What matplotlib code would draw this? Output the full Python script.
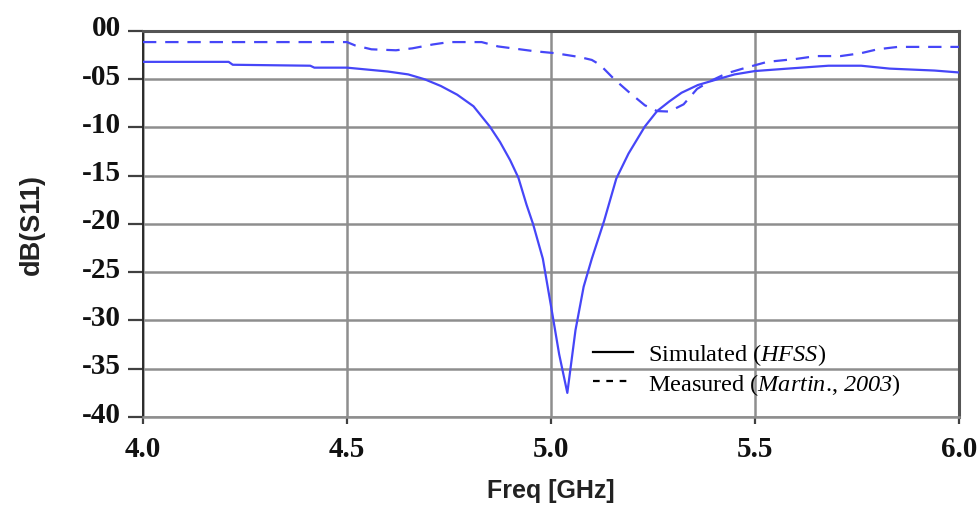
import matplotlib
matplotlib.use("Agg")
import matplotlib.pyplot as plt
import matplotlib.transforms as mtransforms
from matplotlib.lines import Line2D

# Return loss data (frequency in GHz, S11 in dB)
sim_freq = [4.00, 4.21, 4.22, 4.41, 4.42, 4.50, 4.55, 4.60, 4.65, 4.69, 4.73,
            4.77, 4.81, 4.85, 4.875, 4.90, 4.92, 4.94, 4.956, 4.98, 5.00, 5.02,
            5.04, 5.06, 5.08, 5.10, 5.13, 5.16, 5.19, 5.23, 5.26, 5.29, 5.32,
            5.36, 5.40, 5.45, 5.50, 5.58, 5.68, 5.76, 5.83, 5.94, 6.00]
sim_db = [-3.2, -3.2, -3.5, -3.6, -3.8, -3.8, -4.0, -4.2, -4.5, -5.0, -5.7,
          -6.6, -7.8, -9.9, -11.5, -13.4, -15.2, -18.0, -20.0, -23.6, -28.5, -33.5,
          -37.5, -31.0, -26.5, -23.6, -19.7, -15.3, -12.7, -9.9, -8.3, -7.3, -6.4,
          -5.6, -5.1, -4.5, -4.15, -3.9, -3.6, -3.6, -3.9, -4.1, -4.3]

meas_freq = [4.00, 4.50, 4.52, 4.56, 4.62, 4.66, 4.71, 4.75, 4.83, 4.87, 4.96,
             5.01, 5.07, 5.10, 5.12, 5.155, 5.19, 5.23, 5.26, 5.29, 5.325, 5.358,
             5.39, 5.43, 5.47, 5.53, 5.60, 5.65, 5.71, 5.76, 5.80, 5.85, 6.00]
meas_db = [-1.15, -1.15, -1.5, -1.9, -2.0, -1.8, -1.4, -1.15, -1.15, -1.6, -2.1,
           -2.3, -2.7, -3.0, -3.5, -5.0, -6.3, -7.7, -8.3, -8.35, -7.6, -6.0,
           -5.2, -4.4, -3.9, -3.2, -2.9, -2.6, -2.6, -2.3, -1.9, -1.65, -1.65]

x_ticks = [4.0, 4.5, 5.0, 5.5, 6.0]
x_labels = ["4.0", "4.5", "5.0", "5.5", "6.0"]
y_ticks = [0, -5, -10, -15, -20, -25, -30, -35, -40]
y_labels = ["00", "-05", "-10", "-15", "-20", "-25", "-30", "-35", "-40"]

legend_labels = [r"Simulated ($HFSS$)",
                 r"Measured ($Martin$., $2003$)"]

# math parts of the legend are set in italic serif, digits included
plt.rcParams["mathtext.fontset"] = "custom"
plt.rcParams["mathtext.rm"] = "Liberation Serif:italic"
plt.rcParams["mathtext.it"] = "Liberation Serif:italic"

line_color = "#4646f8"
grid_color = "#8e8e8e"
dark = "#404040"

fig = plt.figure(figsize=(9.8, 5.06), dpi=100)
ax = fig.add_axes([0.1459, 0.1739, 0.8327, 0.7629])

ax.plot(sim_freq, sim_db, color=line_color, lw=1.6, zorder=3)
ax.plot(meas_freq, meas_db, color=line_color, lw=1.6, ls=(0, (6, 4)), zorder=3)

ax.set_xlim(4.0, 6.0)
ax.set_ylim(-40, 0)
ax.set_xticks(x_ticks)
ax.set_xticklabels(x_labels)
ax.set_yticks(y_ticks)
ax.set_yticklabels(y_labels)

ax.grid(True, color=grid_color, lw=1.8, zorder=1)
ax.set_axisbelow(True)

for side, col, lw in [("top", "#555555", 2.2), ("right", "#555555", 2.2),
                      ("left", "#2a2a2a", 1.4), ("bottom", grid_color, 1.8)]:
    ax.spines[side].set_color(col)
    ax.spines[side].set_linewidth(lw)

ax.tick_params(axis="y", direction="out", length=10.8, width=1.6,
               color=dark, pad=5.0)
ax.tick_params(axis="x", direction="out", length=5, width=1.6,
               color=dark, pad=8.0)
for lab in ax.get_xticklabels() + ax.get_yticklabels():
    lab.set_fontfamily("Liberation Serif")
    lab.set_fontweight("bold")
    lab.set_fontsize(21)
    lab.set_color("#111111")

# y tick labels sit slightly above their gridlines
shift = mtransforms.ScaledTranslation(0, 6 / 100, fig.dpi_scale_trans)
for lab in ax.get_yticklabels():
    lab.set_transform(lab.get_transform() + shift)

ax.set_xlabel("Freq [GHz]", fontfamily="Liberation Sans", fontweight="bold",
              fontsize=18, color="#222222")
ax.set_ylabel("dB(S11)", fontfamily="Liberation Sans", fontweight="bold",
              fontsize=19.5, color="#222222")
ax.xaxis.set_label_coords(0.5, -0.157)
ax.yaxis.set_label_coords(-0.120, 0.5)

handles = [Line2D([], [], color="black", lw=1.6),
           Line2D([], [], color="black", lw=1.6, ls=(0, (3, 3)))]
leg = ax.legend(handles, legend_labels, loc="center left",
                bbox_to_anchor=(0.5515, 0.124), frameon=False,
                prop=dict(family="Liberation Serif", size=17.5),
                handlelength=1.65, handletextpad=0.6, labelspacing=0.15,
                borderpad=0, borderaxespad=0)

fig.savefig("out.png", dpi=100)
